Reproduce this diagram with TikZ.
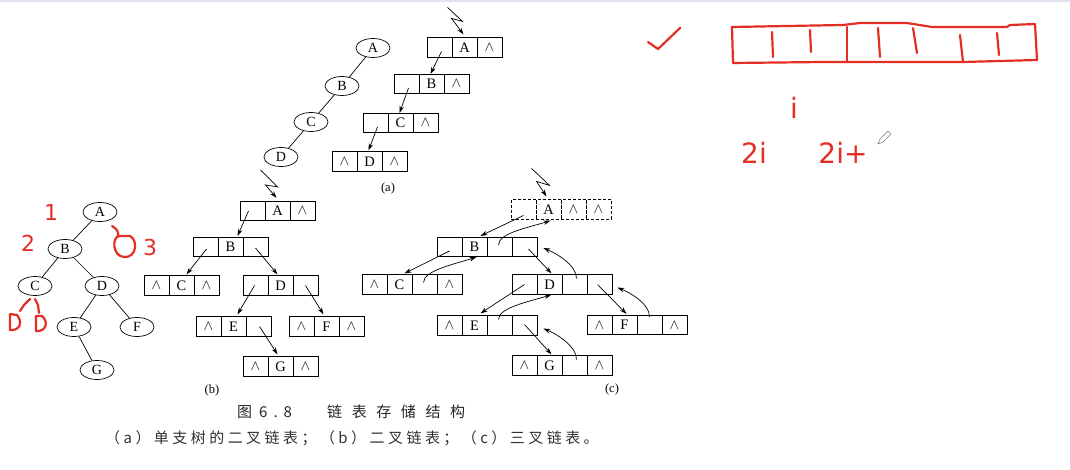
\documentclass[tikz,border=0pt]{standalone}
\usepackage{fontspec}
\setmainfont{Liberation Serif}
\newfontfamily\cjkA[LetterSpace=23]{Noto Sans CJK SC}
\newfontfamily\cjkB[LetterSpace=64]{Noto Sans CJK SC}
\newfontfamily\cjkP{Noto Sans CJK SC}
\newfontfamily\hand{DejaVu Sans}
\usetikzlibrary{shapes.geometric,arrows.meta}
\definecolor{inkred}{RGB}{228,46,36}
\definecolor{topband}{RGB}{222,228,238}
\newcommand\NIL{$\wedge$}
\newcommand\rec[5][]{%
  \foreach \cellc [count=\i] in {#5}{\node[cell,#1] (#2-\i) at ({#3+(\i-0.5)*25}, #4) {\cellc};}}
\begin{document}
\begin{tikzpicture}[x=1pt,y=-1pt,
  cell/.style={draw, line width=0.7pt, minimum width=25pt, minimum height=19.5pt, inner sep=0pt,
    font=\fontsize{14.5}{14.5}\selectfont},
  vtx/.style={draw, ellipse, line width=0.7pt, minimum width=34pt, minimum height=19pt, inner sep=0pt,
    font=\fontsize{14}{14}\selectfont},
  ptr/.style={line width=0.7pt, -{Stealth[length=7pt,width=4.5pt]}},
  tline/.style={line width=0.7pt},
  lbl/.style={font=\fontsize{12.5}{12.5}\selectfont, inner sep=0pt},
  redink/.style={draw=inkred, line width=2.2pt, line cap=round, line join=round},
  redtxt/.style={text=inkred, inner sep=0pt, font=\hand\fontsize{22}{22}\selectfont},
  captxt/.style={inner sep=0pt, text=black!85}
]
\useasboundingbox (0,0) rectangle (1070,470);
\fill[white] (0,0) rectangle (1070,470);
\fill[topband] (0,0) rectangle (1070,2);

% ---------- (a) single-branch tree ----------
\node[vtx] (tA) at (373,48) {A};
\node[vtx] (tB) at (342,86) {B};
\node[vtx] (tC) at (311,122) {C};
\node[vtx] (tD) at (281,157) {D};
\draw[tline] (tA) -- (tB) (tB) -- (tC) (tC) -- (tD);

\rec{aA}{427}{47.5}{{},A,\NIL}
\rec{aB}{394}{84}{{},B,\NIL}
\rec{aC}{363}{123}{{},C,\NIL}
\rec{aD}{332}{161.5}{\NIL,D,\NIL}
\draw[ptr] ([shift={(-17,-30)}]aA-2.north) -- ++(15,14) -- ++(-11,-3) -- ([shift={(-1,-3)}]aA-2.north);
\draw[ptr] ([shift={(2,4)}]aA-1.center) -- ([shift={(-1,0)}]aB-2.north);
\draw[ptr] ([shift={(2,4)}]aB-1.center) -- ([shift={(-1,0)}]aC-2.north);
\draw[ptr] ([shift={(2,4)}]aC-1.center) -- ([shift={(-1,-1)}]aD-2.north);
\node[lbl] (la) at (388,188) {(a)};

% ---------- (b) binary linked list ----------
\rec{bA}{240}{211}{{},A,\NIL}
\rec{bB}{193}{247}{{},B,{}}
\rec{bC}{144}{285.5}{\NIL,C,\NIL}
\rec{bD}{243}{285.5}{{},D,{}}
\rec{bE}{196}{326.5}{\NIL,E,{}}
\rec{bF}{289}{326.5}{\NIL,F,\NIL}
\rec{bG}{243}{366.5}{\NIL,G,\NIL}
\draw[ptr] ([shift={(-17,-31)}]bA-2.north) -- ++(17,17) -- ++(-12,-2) -- ([shift={(-1,-3)}]bA-2.north);
\draw[ptr] ([shift={(-4,0)}]bA-1.center) -- ([shift={(7,-1)}]bB-2.north);
\draw[ptr] ([shift={(1,2)}]bB-1.center) -- ([shift={(5,-1)}]bC-2.north);
\draw[ptr] ([shift={(0,1)}]bB-3.center) -- ([shift={(-3,-1)}]bD-2.north);
\draw[ptr] ([shift={(-1,0)}]bD-1.center) -- ([shift={(4,-2)}]bE-2.north);
\draw[ptr] ([shift={(0,0)}]bD-3.center) -- ([shift={(-3,-2)}]bF-2.north);
\draw[ptr] ([shift={(1,0)}]bE-3.center) -- ([shift={(-3,-2)}]bG-2.north);
\node[lbl] (lb) at (212,390) {(b)};

% ---------- (c) triple linked list ----------
\rec[densely dashed]{cA}{511}{209.5}{{},A,\NIL,\NIL}
\rec{cB}{437}{247}{{},B,{},{}}
\rec{cC}{362}{284.5}{\NIL,C,{},\NIL}
\rec{cD}{512}{284.5}{{},D,{},{}}
\rec{cE}{437}{325.5}{\NIL,E,{},{}}
\rec{cF}{587}{325}{\NIL,F,{},\NIL}
\rec{cG}{512}{365.5}{\NIL,G,{},\NIL}
\draw[ptr] ([shift={(-17,-31)}]cA-2.north) -- ++(18,17) -- ++(-13,-4) -- ([shift={(-2,-3)}]cA-2.north);
% child pointers
\draw[ptr] ([shift={(0,6)}]cA-1.center) -- ([shift={(6,-1)}]cB-2.north);
\draw[ptr] ([shift={(0,4)}]cB-1.center) -- ([shift={(5,-1)}]cC-2.north);
\draw[ptr] ([shift={(4,2)}]cB-4.center) -- ([shift={(2,-1)}]cD-2.north);
\draw[ptr] ([shift={(0,0)}]cD-1.center) -- ([shift={(6,-2)}]cE-2.north);
\draw[ptr] ([shift={(-2,0)}]cD-4.center) -- ([shift={(2,-1)}]cF-2.north);
\draw[ptr] ([shift={(0,-1)}]cE-4.center) -- ([shift={(2,-1)}]cG-2.north);
% parent pointers
\draw[ptr] ([shift={(-1,-2)}]cB-3.center) .. controls +(0,-12) and +(-22,7) .. ([shift={(2,1)}]cA-2.south);
\draw[ptr] ([shift={(-1,-2)}]cC-3.center) .. controls +(0,-12) and +(-22,7) .. ([shift={(2,0)}]cB-2.south);
\draw[ptr] ([shift={(-1,-6)}]cE-3.center) .. controls +(0,-12) and +(-22,7) .. ([shift={(2,0)}]cD-2.south);
\draw[ptr] ([shift={(2,-6)}]cD-3.center) .. controls +(0,-14) and +(12,5) .. ([shift={(6,1)}]cB-4.east);
\draw[ptr] ([shift={(0,-8)}]cF-3.center) .. controls +(0,-14) and +(12,5) .. ([shift={(5,3)}]cD-4.east);
\draw[ptr] ([shift={(2,-6)}]cG-3.center) .. controls +(0,-14) and +(12,5) .. ([shift={(6,3)}]cE-4.east);
\node[lbl] (lc) at (612,389) {(c)};

% ---------- left tree ----------
\node[vtx] (A) at (100,212) {A};
\node[vtx] (B) at (65,249) {B};
\node[vtx] (C) at (35,286) {C};
\node[vtx] (D) at (102,286) {D};
\node[vtx] (E) at (74,327) {E};
\node[vtx] (F) at (137,327) {F};
\node[vtx] (G) at (97,370) {G};
\draw[tline] (A) -- (B) (B) -- (C) (B) -- (D) (D) -- (E) (D) -- (F) (E) -- (G);

% ---------- red handwriting ----------
\node[redtxt] (n1) at (51,212) {1};
\node[redtxt] (n2) at (28,243) {2};
\node[redtxt] (n3) at (150,247) {3};
\draw[redink] (112,226) .. controls (117,229) and (119,232) .. (118,237);
\draw[redink] (119,236) .. controls (112,237) and (112,256) .. (124,257)
  .. controls (137,258) and (138,240) .. (130,236) -- (119,236);
\draw[redink] (30,299) -- (24,305) -- (20,311);
\draw[redink] (10,314) -- (10,330) .. controls (20,331) and (23,322) .. (17,315) -- (10,314);
\draw[redink] (35,299) -- (38,305) -- (39,313);
\draw[redink] (36,316) -- (36,331) .. controls (46,332) and (49,322) .. (42,316) -- (36,316);

% check mark and array
\draw[redink] (648,42) -- (658,49) -- (680,28);
\draw[redink] (732,27) -- (843,25) -- (860,23) -- (907,23) -- (932,27) -- (1007,27) -- (1010,25) -- (1035,24)
  -- (1037,60) -- (963,62) -- (823,62) -- (733,63) -- cycle;
\draw[redink] (772,32) -- (773,57);
\draw[redink] (810,30) -- (811,52);
\draw[redink] (847,27) -- (847,62);
\draw[redink] (878,28) -- (880,57);
\draw[redink] (913,28) -- (917,53);
\draw[redink] (960,35) -- (963,62);
\draw[redink] (997,33) -- (999,55);
\node[redtxt, font=\hand\fontsize{28}{28}\selectfont] (ti) at (794,108) {i};
\node[redtxt, font=\hand\fontsize{28}{28}\selectfont] (t2i) at (754,153) {2i};
\node[redtxt, font=\hand\fontsize{28}{28}\selectfont] (t2i1) at (843,153) {2i+};
% pencil cursor
\draw[gray, line width=0.6pt, line join=round] (878,144) -- (880,139) -- (888,131) -- (891,134) -- (883,142) -- cycle;

% ---------- caption ----------
\node[captxt, anchor=west, font=\cjkP\fontsize{15}{15}\selectfont] (cap1a) at (237,412) {图\hspace{7pt}6\hspace{6pt}.\hspace{6pt}8};
\node[captxt, anchor=west, font=\cjkB\fontsize{15}{15}\selectfont] (cap1b) at (327,412) {链表存储结构};
\node[captxt, anchor=west, text=black!80, font=\cjkA\fontsize{15}{15}\selectfont] (cap2) at (105,438) {（a）单支树的二叉链表；（b）二叉链表；（c）三叉链表。};
\end{tikzpicture}
\end{document}
